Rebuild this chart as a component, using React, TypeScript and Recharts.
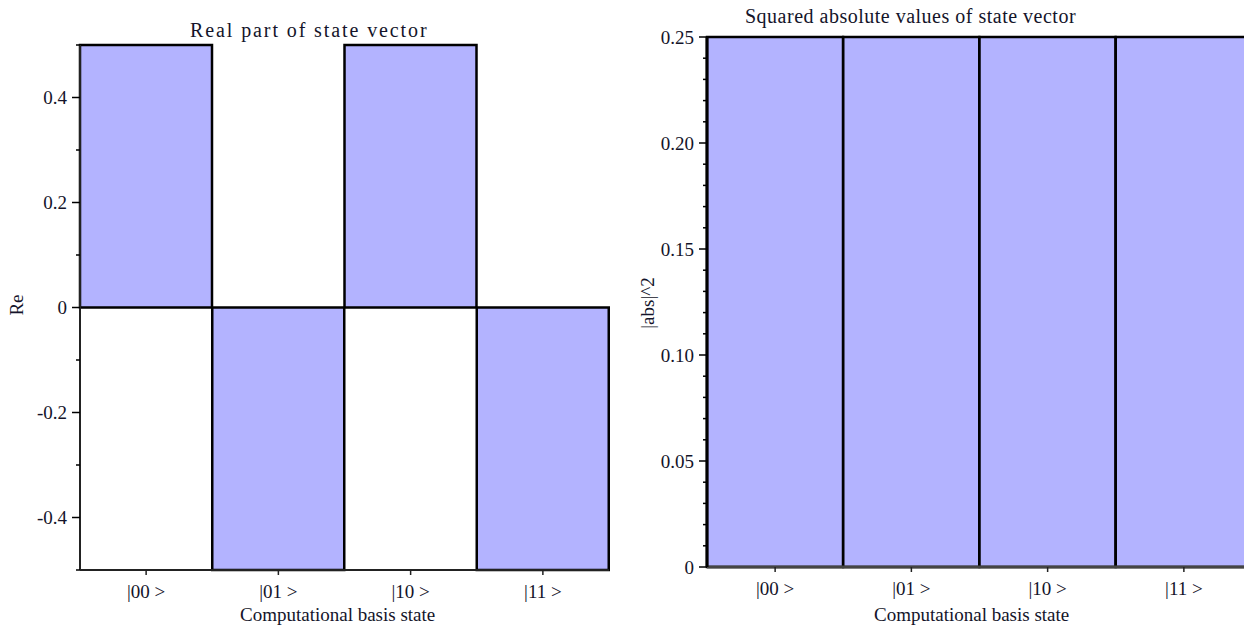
import { BarChart, Bar, XAxis, YAxis } from 'recharts';

const categories = ['|00>', '|01>', '|10>', '|11>'];
const realParts = [0.5, -0.5, 0.5, -0.5];
const squaredAbs = [0.25, 0.25, 0.25, 0.25];

const reTicks = [-0.5, -0.4, -0.3, -0.2, -0.1, 0, 0.1, 0.2, 0.3, 0.4, 0.5];
const reLabels: Record<string, string> = { '-0.4': '-0.4', '-0.2': '-0.2', '0': '0', '0.2': '0.2', '0.4': '0.4' };
const absTicks = [
  0, 0.01, 0.02, 0.03, 0.04, 0.05, 0.06, 0.07, 0.08, 0.09, 0.1, 0.11, 0.12, 0.13,
  0.14, 0.15, 0.16, 0.17, 0.18, 0.19, 0.2, 0.21, 0.22, 0.23, 0.24, 0.25,
];
const absLabels: Record<string, string> = {
  '0': '0', '0.05': '0.05', '0.1': '0.10', '0.15': '0.15', '0.2': '0.20', '0.25': '0.25',
};

const reData = categories.map((c, i) => ({ name: c, re: realParts[i] }));
const absData = categories.map((c, i) => ({ name: c, abs: squaredAbs[i] }));

const FONT = "'Liberation Serif', 'Times New Roman', serif";
const FILL = '#b3b3ff';
const INK = '#14142a';

function makeYTick(labels: Record<string, string>) {
  return (props: any) => {
    const { x, y, payload } = props;
    const label = labels[String(payload.value)];
    const len = label !== undefined ? 8 : 4;
    return (
      <g>
        <line x1={x - len} x2={x} y1={y} y2={y} stroke="#000" strokeWidth={1.5} />
        {label !== undefined && (
          <text x={x - 13} y={y} dy="0.35em" textAnchor="end" fontSize={19} fontFamily={FONT} fill={INK}>
            {label}
          </text>
        )}
      </g>
    );
  };
}

const fmtKet = (v: string) => v.replace('>', ' >');

const abs = (s: any) => ({ position: 'absolute' as const, fontFamily: FONT, color: INK, whiteSpace: 'nowrap' as const, lineHeight: 1, ...s });
const rot = (cx: number, cy: number) =>
  abs({ left: cx, top: cy, fontSize: 19, transform: 'translate(-50%, -50%) rotate(-90deg)' });

export default function App() {
  return (
    <div style={{ position: 'absolute', left: 0, top: 0, width: 1244, height: 625, overflow: 'hidden', background: '#fff' }}>
      <div style={abs({ left: 190, top: 20, fontSize: 20, letterSpacing: 1.9 })}>Real part of state vector</div>
      <div style={rot(16, 305)}>Re</div>
      <div style={abs({ left: 240, top: 605, fontSize: 19 })}>Computational basis state</div>

      <div style={{ position: 'absolute', left: 0, top: 0 }}>
        <BarChart width={620} height={625} data={reData} barCategoryGap={0} margin={{ top: 45, right: 11, left: 8, bottom: 25 }}>
          <XAxis
            dataKey="name"
            height={30}
            axisLine={{ stroke: '#222', strokeWidth: 2 }}
            tickLine={{ stroke: '#222', strokeWidth: 1.5 }}
            tickSize={5}
            tickMargin={10}
            tickFormatter={fmtKet}
            tick={{ fontSize: 19, fontFamily: FONT, fill: INK }}
          />
          <YAxis
            type="number"
            domain={[-0.5, 0.5]}
            ticks={reTicks}
            width={72}
            tickSize={0}
            tickMargin={0}
            tickLine={false}
            axisLine={{ stroke: '#222', strokeWidth: 2 }}
            tick={makeYTick(reLabels)}
            interval={0}
          />
          <Bar dataKey="re" fill={FILL} stroke="#000" strokeWidth={2.5} isAnimationActive={false} />
        </BarChart>
      </div>

      <div style={abs({ left: 745, top: 6, fontSize: 20, letterSpacing: 0.5 })}>Squared absolute values of state vector</div>
      <div style={rot(647, 303)}>|abs|^2</div>
      <div style={abs({ left: 874, top: 605, fontSize: 19 })}>Computational basis state</div>

      <div style={{ position: 'absolute', left: 620, top: 0 }}>
        <BarChart width={640} height={625} data={absData} barCategoryGap={0} margin={{ top: 37, right: 8, left: 8, bottom: 28 }}>
          <XAxis
            dataKey="name"
            height={30}
            axisLine={{ stroke: '#444', strokeWidth: 3 }}
            tickLine={{ stroke: '#222', strokeWidth: 1.5 }}
            tickSize={5}
            tickMargin={10}
            tickFormatter={fmtKet}
            tick={{ fontSize: 19, fontFamily: FONT, fill: INK }}
          />
          <YAxis
            type="number"
            domain={[0, 0.25]}
            ticks={absTicks}
            width={79}
            tickSize={0}
            tickMargin={0}
            tickLine={false}
            axisLine={{ stroke: '#000', strokeWidth: 3 }}
            tick={makeYTick(absLabels)}
            interval={0}
          />
          <Bar dataKey="abs" fill={FILL} stroke="#000" strokeWidth={2.5} isAnimationActive={false} />
        </BarChart>
      </div>
    </div>
  );
}
